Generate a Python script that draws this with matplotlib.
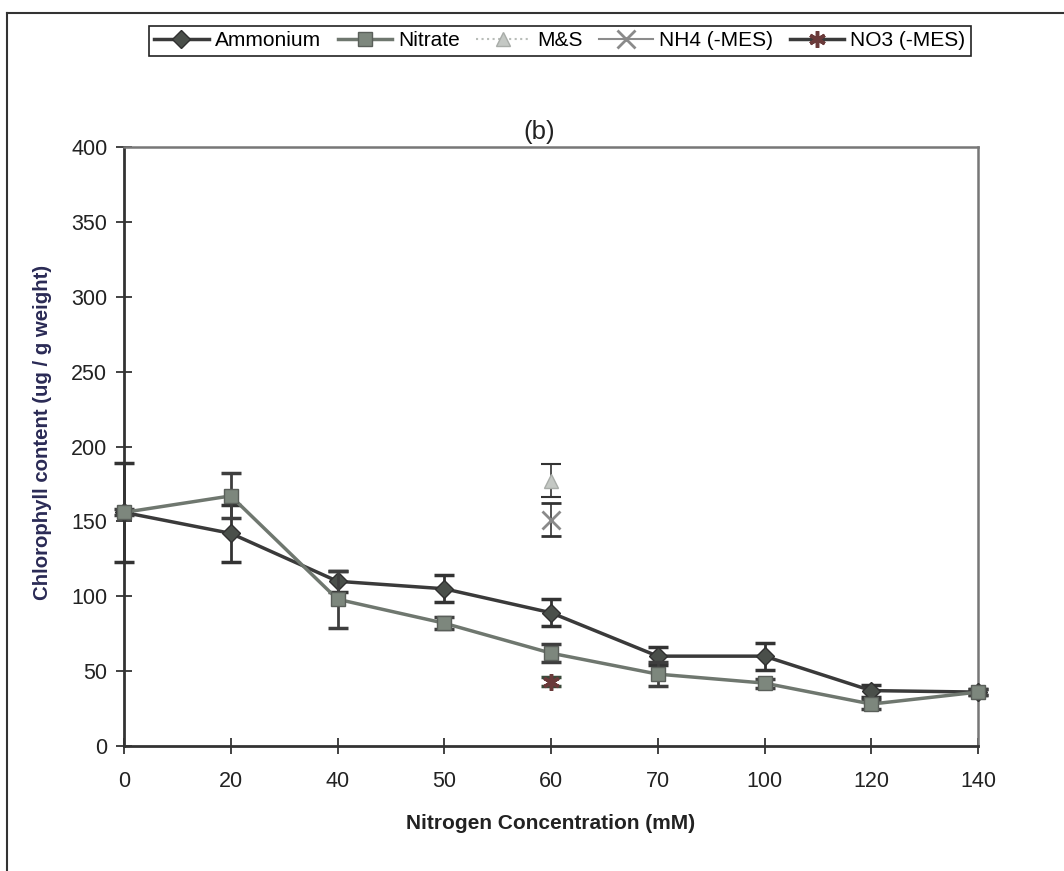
import numpy as np
import matplotlib.pyplot as plt
from matplotlib.lines import Line2D

plt.rcParams['font.family'] = ['Liberation Sans', 'DejaVu Sans']

# x categories (evenly spaced, like an Excel line chart)
conc_labels = ["0", "20", "40", "50", "60", "70", "100", "120", "140"]

# series values
ammonium = [156, 142, 110, 105, 89, 60, 60, 37, 36]
ammonium_err = [33, 19, 7, 9, 9, 6, 9, 4, 2]
nitrate = [156, 167, 98, 82, 62, 48, 42, 28, 36]
nitrate_err = [2, 15, 19, 4, 6, 8, 3, 3, 2]

# single points at 60 mM
ms_pos = [4]
ms_val = [177]
ms_err = [11]
nh4_mes = [151]
nh4_mes_err = [11]
no3_mes = [43]
no3_mes_err = [3]

x = np.arange(len(conc_labels))

fig = plt.figure(figsize=(10.64, 8.71), dpi=100)
ax = fig.add_axes([124 / 1064, 125 / 871, 854 / 1064, 599 / 871])

styles = {
    "Ammonium": dict(color="#3a3a3a", lw=2.5, marker="D", ms=9,
                     mfc="#4a4f4a", mec="#303030"),
    "Nitrate": dict(color="#6f776f", lw=2.5, marker="s", ms=10,
                    mfc="#7d877d", mec="#5a5f5a"),
    "M&S": dict(color="#b9bdb9", lw=1.5, ls=":", marker="^", ms=10,
                mfc="#c4c8c4", mec="#a8aca8"),
    "NH4 (-MES)": dict(color="#8c8c8c", lw=1.5, marker="x", ms=13, mew=2,
                       mec="#8a8a8a"),
    "NO3 (-MES)": dict(color="#3a3a3a", lw=2.5, marker=(6, 2, 0), ms=12,
                       mew=2.5, mec="#6a3a3a"),
}

def draw(xs, ys, err, name, ecolor, ew, cw, z):
    bars = ax.errorbar(xs, ys, yerr=err, ecolor=ecolor, elinewidth=ew,
                       capsize=7, capthick=cw, zorder=z, **styles[name])
    for art in bars.lines[1] + bars.lines[2]:
        art.set_clip_on(False)
    bars.lines[0].set_clip_on(False)

draw(x, ammonium, ammonium_err, "Ammonium", "#333333", 2, 2.5, 3)
draw(x, nitrate, nitrate_err, "Nitrate", "#3e3e3e", 2, 2.5, 4)
draw(ms_pos, ms_val, ms_err, "M&S", "#333333", 1.2, 1.5, 3)
draw(ms_pos, nh4_mes, nh4_mes_err, "NH4 (-MES)", "#333333", 1.2, 1.5, 3)
draw(ms_pos, no3_mes, no3_mes_err, "NO3 (-MES)", "#3a4a3a", 2, 2.5, 3)

ax.set_xlim(0, len(conc_labels) - 1)
ax.set_ylim(0, 400)
ax.set_xticks(x)
ax.set_xticklabels(conc_labels)
ax.set_yticks(range(0, 401, 50))
ax.tick_params(axis="both", direction="inout", length=12, width=1.2,
               labelsize=15.5, colors="#222222")
ax.tick_params(axis="x", pad=12)
ax.tick_params(axis="y", pad=6)

for side in ["left", "bottom"]:
    ax.spines[side].set_color("#333333")
    ax.spines[side].set_linewidth(2)
for side in ["top", "right"]:
    ax.spines[side].set_color("#777777")
    ax.spines[side].set_linewidth(1.8)

ax.set_xlabel("Nitrogen Concentration (mM)", fontsize=15, fontweight="bold",
              color="#222222")
ax.xaxis.set_label_coords(0.5, -(823 - 746) / 599)
ax.xaxis.label.set_va("center")
ax.set_ylabel("Chlorophyll content (ug / g weight)", fontsize=14.7,
              fontweight="bold", color="#2a2a55")
ax.yaxis.set_label_coords(-(124 - 52) / 854, (746 - 432) / 599)
fig.text(539 / 1064, 1 - 132 / 871, "(b)", fontsize=18.5, ha="center",
         va="center", color="#222222")

handles = [Line2D([], [], **styles[n]) for n in styles]
leg = fig.legend(handles, list(styles), loc="center", ncol=5,
                 bbox_to_anchor=(560 / 1064, 1 - 41 / 871), fontsize=15,
                 frameon=True, fancybox=False, framealpha=1,
                 edgecolor="#222222", handlelength=2.6, handletextpad=0.3,
                 columnspacing=0.8, borderpad=0.25)
leg.get_frame().set_linewidth(1.2)

# outer chart border
fig.add_artist(Line2D([7 / 1064, 7 / 1064], [0, 1 - 13 / 871],
                      transform=fig.transFigure, color="#333333", lw=1.5))
fig.add_artist(Line2D([7 / 1064, 1], [1 - 13 / 871, 1 - 13 / 871],
                      transform=fig.transFigure, color="#333333", lw=1.5))

fig.savefig("out.png", dpi=100)
